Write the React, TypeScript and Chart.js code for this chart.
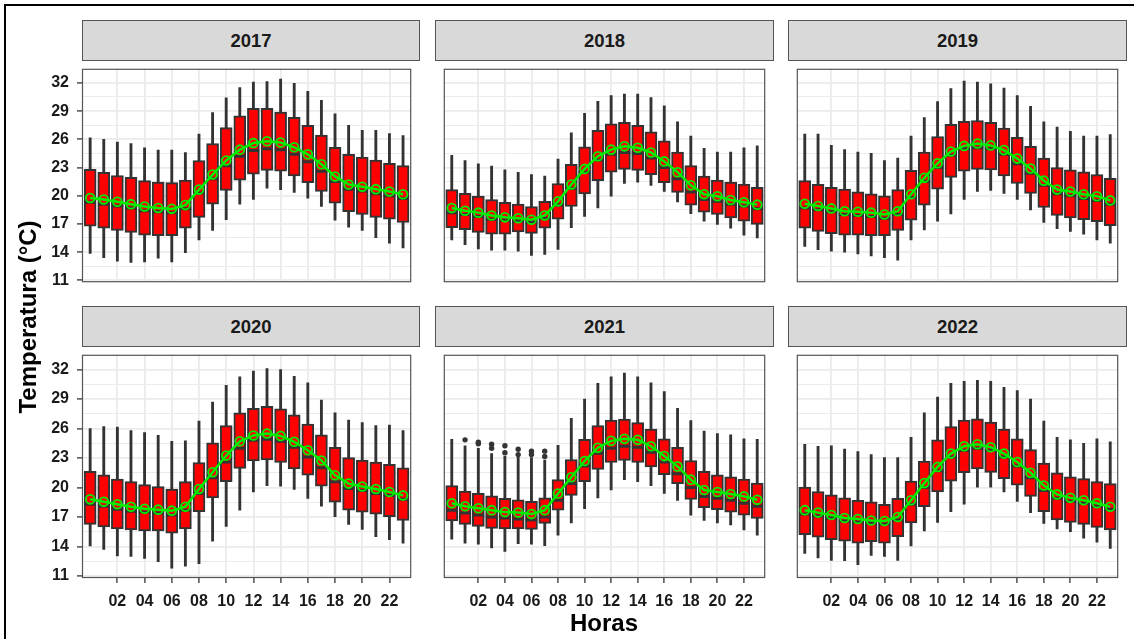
import React, { useEffect, useRef } from 'react';
import { Chart, registerables } from 'chart.js';

Chart.register(...registerables);

// ---------- data ----------
const HOURS = [0, 1, 2, 3, 4, 5, 6, 7, 8, 9, 10, 11, 12, 13, 14, 15, 16, 17, 18, 19, 20, 21, 22, 23];
const X_TICKS = [2, 4, 6, 8, 10, 12, 14, 16, 18, 20, 22];
const Y_TICKS = [11, 12.5, 14, 15.5, 17, 18.5, 20, 21.5, 23, 24.5, 26, 27.5, 29, 30.5, 32];
const YEARS = ['2017', '2018', '2019', '2020', '2021', '2022'];

const hi2017 = [26.15, 26.0, 25.7, 25.55, 25.1, 24.85, 24.85, 24.6, 26.55, 28.85, 30.4, 31.5, 32.1, 32.15, 32.4, 31.95, 31.1, 30.15, 28.7, 27.5, 26.95, 26.95, 26.6, 26.4];
const q3_2017 = [22.8, 22.5, 22.15, 21.95, 21.6, 21.45, 21.4, 21.65, 23.75, 25.55, 27.25, 28.5, 29.3, 29.3, 28.9, 28.35, 27.5, 26.45, 25.15, 24.4, 24.1, 23.8, 23.45, 23.2];
const med2017 = [19.3, 19.1, 18.9, 18.7, 18.4, 18.3, 18.2, 18.6, 20.3, 21.8, 23.2, 24.2, 24.8, 25.0, 24.9, 24.4, 23.6, 22.6, 21.5, 20.7, 20.5, 20.2, 20.0, 19.7];
const q1_2017 = [16.75, 16.55, 16.3, 16.1, 15.8, 15.75, 15.75, 16.55, 17.7, 19.1, 20.55, 21.65, 22.3, 22.7, 22.6, 22.1, 21.4, 20.45, 19.2, 18.3, 18.0, 17.7, 17.5, 17.15];
const lo2017 = [13.85, 13.4, 13.05, 12.9, 12.95, 13.35, 12.95, 13.95, 15.3, 16.3, 17.45, 19.1, 19.6, 20.8, 20.65, 20.35, 19.75, 18.85, 17.4, 16.65, 16.3, 15.55, 14.95, 14.45];
const mean2017 = [19.75, 19.6, 19.35, 19.1, 18.85, 18.7, 18.6, 19.0, 20.65, 22.25, 23.75, 24.9, 25.6, 25.8, 25.65, 25.15, 24.4, 23.35, 22.05, 21.2, 20.95, 20.7, 20.45, 20.15];

const hi2018 = [24.3, 23.75, 23.4, 23.15, 22.75, 22.5, 22.25, 22.1, 23.9, 26.7, 28.75, 30.05, 30.65, 30.8, 30.8, 30.45, 29.55, 27.85, 26.35, 25.05, 24.65, 24.65, 25.1, 25.3];
const q3_2018 = [20.65, 20.25, 19.95, 19.6, 19.3, 19.1, 18.85, 19.4, 21.3, 23.35, 25.2, 26.95, 27.65, 27.8, 27.5, 26.8, 25.85, 24.65, 23.2, 22.1, 21.65, 21.45, 21.25, 20.9];
const med2018 = [18.2, 18.0, 17.8, 17.5, 17.4, 17.3, 17.2, 17.6, 19.0, 20.8, 22.5, 23.8, 24.4, 24.6, 24.5, 24.0, 23.0, 21.8, 20.4, 19.6, 19.4, 19.1, 18.9, 18.6];
const q1_2018 = [16.6, 16.4, 16.1, 15.9, 15.9, 16.15, 16.0, 16.55, 17.5, 18.85, 20.2, 21.6, 22.5, 22.8, 22.7, 22.25, 21.4, 20.35, 19.0, 18.25, 18.0, 17.65, 17.3, 16.95];
const lo2018 = [15.3, 14.8, 14.35, 14.2, 14.2, 14.1, 13.65, 13.75, 14.3, 16.6, 17.8, 18.7, 19.95, 21.3, 21.45, 21.1, 20.45, 19.35, 18.1, 17.3, 16.95, 16.55, 15.8, 15.5];
const mean2018 = [18.7, 18.4, 18.2, 17.9, 17.7, 17.6, 17.45, 17.9, 19.4, 21.2, 22.85, 24.2, 24.9, 25.25, 25.1, 24.6, 23.65, 22.5, 21.1, 20.15, 19.95, 19.55, 19.3, 19.05];

const hi2019 = [26.55, 26.55, 25.35, 24.9, 24.65, 24.5, 23.75, 24.0, 26.35, 28.3, 30.0, 31.4, 32.2, 32.1, 31.9, 31.45, 30.65, 29.5, 27.85, 27.3, 26.85, 26.35, 26.35, 26.5];
const q3_2019 = [21.6, 21.2, 20.9, 20.7, 20.4, 20.2, 20.0, 20.65, 22.7, 24.65, 26.3, 27.6, 27.9, 28.0, 27.8, 27.2, 26.2, 25.25, 24.0, 23.0, 22.75, 22.55, 22.25, 21.85];
const med2019 = [18.7, 18.5, 18.3, 18.0, 17.9, 17.8, 17.6, 18.0, 19.8, 21.5, 23.0, 24.3, 25.0, 25.1, 25.0, 24.4, 23.4, 22.4, 21.1, 20.2, 20.0, 19.7, 19.5, 19.1];
const q1_2019 = [16.55, 16.2, 15.95, 15.8, 15.8, 15.75, 15.75, 16.3, 17.4, 19.0, 20.7, 21.95, 22.6, 22.8, 22.75, 22.1, 21.3, 20.25, 18.75, 17.9, 17.65, 17.45, 17.25, 16.8];
const lo2019 = [14.6, 14.25, 14.1, 14.0, 13.8, 13.6, 13.4, 13.15, 15.3, 16.35, 17.3, 18.05, 19.6, 20.45, 20.55, 20.25, 19.6, 18.5, 17.15, 16.5, 16.2, 15.9, 15.3, 14.95];
const mean2019 = [19.15, 18.9, 18.65, 18.35, 18.3, 18.2, 18.0, 18.35, 20.15, 21.9, 23.45, 24.7, 25.3, 25.55, 25.35, 24.85, 23.95, 22.9, 21.6, 20.65, 20.45, 20.15, 19.95, 19.5];

const hi2020 = [26.0, 26.2, 26.15, 25.8, 25.6, 25.3, 24.7, 24.75, 26.75, 28.7, 30.4, 31.25, 31.85, 32.1, 32.0, 31.3, 30.65, 28.9, 27.6, 26.85, 26.6, 26.3, 26.35, 25.8];
const q3_2020 = [21.65, 21.3, 20.85, 20.6, 20.3, 20.1, 19.85, 20.6, 22.55, 24.55, 26.3, 27.6, 28.05, 28.25, 28.0, 27.4, 26.45, 25.35, 24.1, 23.05, 22.8, 22.6, 22.35, 22.0];
const med2020 = [18.3, 18.1, 17.8, 17.6, 17.5, 17.4, 17.2, 17.7, 19.4, 21.0, 22.6, 24.0, 24.8, 24.9, 24.7, 24.1, 23.1, 22.0, 20.6, 19.9, 19.7, 19.4, 19.2, 18.8];
const q1_2020 = [16.25, 16.0, 15.8, 15.7, 15.6, 15.6, 15.35, 15.8, 17.55, 18.95, 20.6, 21.95, 22.7, 22.8, 22.55, 21.9, 21.25, 20.15, 18.5, 17.7, 17.5, 17.3, 17.05, 16.65];
const lo2020 = [14.05, 13.7, 13.05, 13.0, 12.8, 12.45, 11.8, 12.0, 12.25, 14.55, 16.05, 17.7, 19.55, 20.2, 20.15, 19.8, 18.9, 18.1, 17.05, 16.25, 15.75, 15.0, 14.7, 14.35];
const mean2020 = [18.8, 18.55, 18.3, 18.05, 17.85, 17.75, 17.65, 18.05, 19.85, 21.55, 23.25, 24.7, 25.3, 25.5, 25.25, 24.65, 23.8, 22.75, 21.25, 20.4, 20.1, 19.85, 19.55, 19.2];

const hi2021 = [24.9, 24.25, 24.0, 23.45, 23.2, 23.15, 23.05, 22.8, 24.3, 27.05, 29.0, 30.6, 31.25, 31.65, 31.25, 30.65, 29.75, 28.05, 26.8, 25.75, 25.5, 25.35, 24.95, 24.9];
const q3_2021 = [20.2, 19.65, 19.4, 19.15, 18.9, 18.75, 18.6, 18.95, 20.8, 22.85, 24.9, 26.3, 26.85, 26.95, 26.6, 25.95, 24.95, 24.1, 22.75, 21.65, 21.3, 21.1, 20.85, 20.45];
const med2021 = [17.7, 17.4, 17.2, 17.0, 16.9, 16.8, 16.7, 17.0, 18.7, 20.4, 22.2, 23.5, 24.0, 24.2, 24.1, 23.6, 22.6, 21.4, 20.0, 19.1, 18.9, 18.7, 18.4, 18.1];
const q1_2021 = [16.6, 16.25, 16.05, 15.85, 15.8, 15.8, 15.75, 16.35, 17.7, 19.2, 20.6, 21.85, 22.55, 22.75, 22.55, 22.1, 21.3, 20.4, 18.8, 17.95, 17.75, 17.5, 17.2, 16.85];
const lo2021 = [14.75, 14.35, 14.25, 13.85, 13.5, 14.3, 14.25, 14.1, 15.15, 16.4, 17.85, 18.95, 19.75, 20.8, 20.6, 20.2, 19.4, 18.7, 17.2, 16.65, 16.4, 16.2, 15.7, 15.15];
const mean2021 = [18.4, 18.1, 17.9, 17.7, 17.5, 17.45, 17.3, 17.7, 19.4, 21.05, 22.7, 24.05, 24.75, 24.95, 24.85, 24.2, 23.2, 22.15, 20.8, 19.75, 19.55, 19.35, 19.1, 18.75];
const outHour2021 = [1, 2, 2, 3, 3, 4, 4, 5, 5, 6, 6, 7, 7];
const outVal2021 = [24.85, 24.6, 24.45, 24.4, 24.0, 24.25, 23.55, 23.9, 23.35, 23.7, 23.35, 23.7, 23.15];

const hi2022 = [24.4, 24.2, 24.25, 23.9, 23.65, 23.35, 23.05, 23.05, 25.1, 27.6, 29.2, 30.6, 30.8, 30.9, 30.8, 30.2, 29.85, 29.0, 26.75, 25.1, 24.85, 24.5, 24.95, 24.65];
const q3_2022 = [20.05, 19.6, 19.25, 18.95, 18.7, 18.55, 18.3, 18.9, 20.65, 22.7, 24.85, 26.2, 26.85, 27.0, 26.65, 25.95, 24.95, 23.85, 22.5, 21.5, 21.1, 20.9, 20.6, 20.4];
const med2022 = [17.3, 17.1, 16.9, 16.6, 16.5, 16.4, 16.3, 16.7, 18.3, 20.0, 21.7, 23.1, 23.8, 24.0, 23.8, 23.1, 22.2, 21.0, 19.7, 18.9, 18.6, 18.4, 18.1, 17.8];
const q1_2022 = [15.2, 14.95, 14.7, 14.55, 14.35, 14.5, 14.35, 15.0, 16.4, 18.05, 19.55, 20.65, 21.5, 21.9, 21.55, 20.9, 20.25, 19.1, 17.55, 16.7, 16.45, 16.25, 15.95, 15.7];
const lo2022 = [13.3, 12.85, 12.6, 12.55, 12.15, 13.1, 13.0, 12.6, 14.05, 15.6, 16.45, 17.55, 18.3, 20.05, 20.05, 19.55, 18.6, 17.45, 16.35, 15.8, 15.5, 14.85, 14.45, 13.8];
const mean2022 = [17.7, 17.45, 17.2, 16.9, 16.8, 16.65, 16.6, 17.0, 18.7, 20.45, 22.1, 23.45, 24.2, 24.4, 24.1, 23.45, 22.6, 21.5, 20.2, 19.3, 18.95, 18.7, 18.4, 18.05];

type PanelData = {
  year: string;
  hi: number[]; q3: number[]; med: number[]; q1: number[]; lo: number[]; mean: number[];
  outH: number[]; outV: number[];
};

const PANELS: PanelData[] = [
  { year: YEARS[0], hi: hi2017, q3: q3_2017, med: med2017, q1: q1_2017, lo: lo2017, mean: mean2017, outH: [], outV: [] },
  { year: YEARS[1], hi: hi2018, q3: q3_2018, med: med2018, q1: q1_2018, lo: lo2018, mean: mean2018, outH: [], outV: [] },
  { year: YEARS[2], hi: hi2019, q3: q3_2019, med: med2019, q1: q1_2019, lo: lo2019, mean: mean2019, outH: [], outV: [] },
  { year: YEARS[3], hi: hi2020, q3: q3_2020, med: med2020, q1: q1_2020, lo: lo2020, mean: mean2020, outH: [], outV: [] },
  { year: YEARS[4], hi: hi2021, q3: q3_2021, med: med2021, q1: q1_2021, lo: lo2021, mean: mean2021, outH: outHour2021, outV: outVal2021 },
  { year: YEARS[5], hi: hi2022, q3: q3_2022, med: med2022, q1: q1_2022, lo: lo2022, mean: mean2022, outH: [], outV: [] },
];

// ---------- layout ----------
const COL_L = [82, 435, 788];
const COL_R = [420, 774, 1127];
const ROW_T = [60, 346];
const ROW_B = [291, 578];
const STRIP_H = 40;
const FONT = "'Liberation Sans', Arial, sans-serif";

const panelBorder = {
  id: 'panelBorder',
  afterDatasetsDraw(chart: any) {
    const { ctx, chartArea: a } = chart;
    ctx.save();
    ctx.strokeStyle = '#555555';
    ctx.lineWidth = 1.2;
    ctx.strokeRect(a.left + 0.5, a.top + 0.5, a.right - a.left - 1, a.bottom - a.top - 1);
    ctx.restore();
  },
};

function Panel({ p, col, row }: { p: PanelData; col: number; row: number }) {
  const ref = useRef<HTMLCanvasElement | null>(null);
  const axisW = col === 0 ? 82 : 0;
  const axisH = row === 1 ? 40 : 0;
  const left = COL_L[col] - axisW;
  const top = ROW_T[row];
  const width = COL_R[col] - left;
  const height = ROW_B[row] - ROW_T[row] + axisH;

  useEffect(() => {
    if (!ref.current) return;
    const tickFont = { family: 'Liberation Sans', weight: 'bold' as const, size: 16 };
    const zeroPad = (s: any) => { s.paddingLeft = 0; s.paddingRight = 0; s.paddingTop = 0; s.paddingBottom = 0; };
    const chart = new Chart(ref.current, {
      type: 'bar',
      data: {
        datasets: [
          {
            type: 'bar', label: 'whisker',
            data: HOURS.map((h, i) => ({ x: h, y: [p.lo[i], p.hi[i]] })) as any,
            backgroundColor: '#333333', borderWidth: 0, barThickness: 2.2, grouped: false, order: 5,
          } as any,
          {
            type: 'bar', label: 'box',
            data: HOURS.map((h, i) => ({ x: h, y: [p.q1[i], p.q3[i]] })) as any,
            backgroundColor: '#ff0000', borderColor: '#333333', borderWidth: 2, borderSkipped: false,
            barThickness: 12, grouped: false, order: 4,
          } as any,
          {
            type: 'line', label: 'median',
            data: HOURS.map((h, i) => ({ x: h, y: p.med[i] })),
            showLine: false, pointStyle: 'line', pointRadius: 5.8, pointBorderWidth: 3,
            pointBorderColor: '#333333', borderColor: '#333333', order: 3,
          } as any,
          {
            type: 'line', label: 'outliers',
            data: p.outH.map((h, i) => ({ x: h, y: p.outV[i] })),
            showLine: false, pointStyle: 'circle', pointRadius: 2.7, pointBorderWidth: 0,
            pointBackgroundColor: '#333333', borderColor: '#333333', order: 2,
          } as any,
          {
            type: 'line', label: 'mean',
            data: HOURS.map((h, i) => ({ x: h, y: p.mean[i] })),
            borderColor: '#00ee00', borderWidth: 2.5, tension: 0, fill: false,
            pointRadius: 4.4, pointBorderWidth: 1.8, pointBorderColor: '#00ee00',
            pointBackgroundColor: 'rgba(0,0,0,0)', order: 1,
          } as any,
        ],
      },
      options: {
        animation: false,
        responsive: false,
        events: [],
        layout: { padding: 0 },
        plugins: { legend: { display: false }, tooltip: { enabled: false }, title: { display: false } },
        scales: {
          x: {
            type: 'linear', min: -0.6, max: 23.6, offset: false, bounds: 'data',
            grid: {
              offset: false, color: '#ebebeb', lineWidth: 1.8,
              drawTicks: row === 1, tickLength: 5, tickColor: '#333333', tickWidth: 1.3,
            },
            border: { display: false },
            afterBuildTicks: (s: any) => { s.ticks = X_TICKS.map((v) => ({ value: v })); },
            ticks: {
              display: row === 1, autoSkip: false, maxRotation: 0, minRotation: 0, padding: 9,
              color: '#1a1a1a', font: tickFont,
              callback: (v: any) => String(v).padStart(2, '0'),
            },
            afterFit: (s: any) => { s.height = axisH; zeroPad(s); },
          } as any,
          y: {
            type: 'linear', min: 10.8, max: 33.5, bounds: 'data',
            grid: {
              color: '#ebebeb',
              lineWidth: (c: any) => (Number.isInteger(c.tick?.value) ? 1.8 : 1.1),
              drawTicks: col === 0, tickLength: 5,
              tickColor: (c: any) => (Number.isInteger(c.tick?.value) ? '#333333' : 'rgba(0,0,0,0)'),
              tickWidth: 1.3,
            },
            border: { display: false },
            afterBuildTicks: (s: any) => { s.ticks = Y_TICKS.map((v) => ({ value: v })); },
            ticks: {
              display: col === 0, autoSkip: false, padding: 8, color: '#1a1a1a', font: tickFont,
              callback: (v: any) => (Number.isInteger(v) ? String(v) : ''),
            },
            afterFit: (s: any) => { s.width = axisW; zeroPad(s); },
          } as any,
        },
      },
      plugins: [panelBorder],
    });
    return () => chart.destroy();
  }, []);

  return (
    <canvas
      ref={ref}
      width={width}
      height={height}
      style={{ position: 'absolute', left, top, width, height }}
    />
  );
}

function Strip({ label, col, row }: { label: string; col: number; row: number }) {
  return (
    <div
      style={{
        position: 'absolute',
        left: COL_L[col],
        top: ROW_T[row] - STRIP_H,
        width: COL_R[col] - COL_L[col],
        height: STRIP_H + 1,
        boxSizing: 'border-box',
        background: '#d9d9d9',
        border: '1px solid #555555',
        display: 'flex',
        alignItems: 'center',
        justifyContent: 'center',
        fontFamily: FONT,
        fontWeight: 'bold',
        fontSize: 18.5,
        color: '#1a1a1a',
      }}
    >
      {label}
    </div>
  );
}

export default function App() {
  return (
    <div
      style={{
        position: 'absolute', left: 0, top: 0, width: 1134, height: 639,
        overflow: 'hidden', background: '#ffffff',
      }}
    >
      <div
        style={{
          position: 'absolute', left: 4, top: 4, width: 1160, height: 700,
          border: '2px solid #000000', boxSizing: 'border-box',
        }}
      />
      {PANELS.map((p, i) => (
        <React.Fragment key={p.year}>
          <Strip label={p.year} col={i % 3} row={Math.floor(i / 3)} />
          <Panel p={p} col={i % 3} row={Math.floor(i / 3)} />
        </React.Fragment>
      ))}
      <div
        style={{
          position: 'absolute', left: 28 - 150, top: 317 - 12, width: 300, height: 24,
          lineHeight: '24px', textAlign: 'center', transform: 'rotate(-90deg)',
          fontFamily: FONT, fontWeight: 'bold', fontSize: 24, color: '#000000', whiteSpace: 'nowrap',
        }}
      >
        Temperatura (°C)
      </div>
      <div
        style={{
          position: 'absolute', left: 604 - 100, top: 611, width: 200, height: 24,
          lineHeight: '24px', textAlign: 'center',
          fontFamily: FONT, fontWeight: 'bold', fontSize: 24, color: '#000000',
        }}
      >
        Horas
      </div>
    </div>
  );
}
